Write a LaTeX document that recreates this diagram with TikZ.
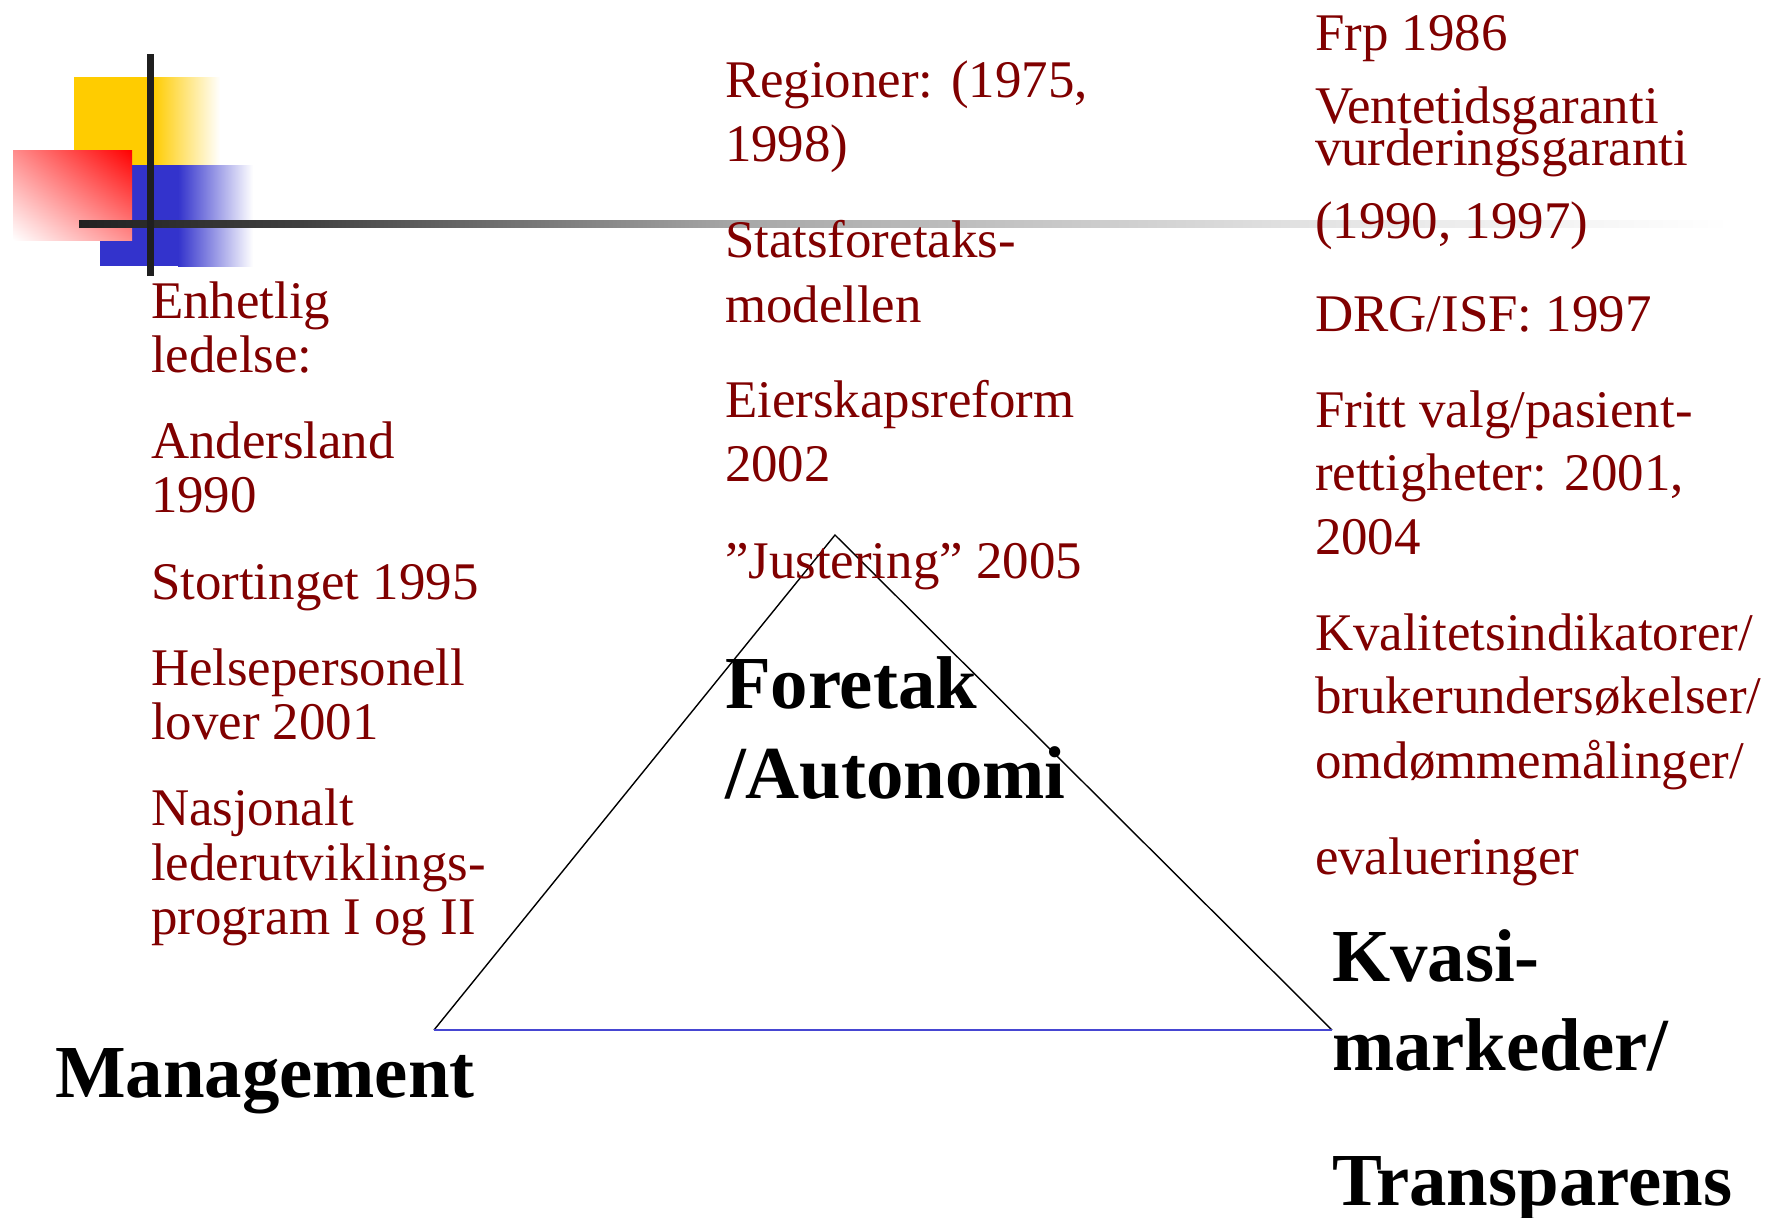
\documentclass[tikz,border=0pt]{standalone}
\usepackage{fontspec}
\setmainfont{Liberation Serif}
\usetikzlibrary{shadings}
\definecolor{dred}{RGB}{128,0,0}
\definecolor{dyellow}{RGB}{255,204,0}
\definecolor{dblue}{RGB}{51,51,204}
\definecolor{baseblue}{RGB}{70,70,210}
\begin{document}
\begin{tikzpicture}[x=0.5pt,y=-0.5pt,
  txt/.style={anchor=base west, inner sep=0pt, outer sep=0pt, text=dred, font=\fontsize{26.45}{26.45}\selectfont},
  big/.style={anchor=base west, inner sep=0pt, outer sep=0pt, text=black, font=\fontsize{37.4}{37.4}\selectfont\bfseries},
  sideedge/.style={draw=black, line width=0.7pt},
  baseedge/.style={draw=baseblue, line width=0.8pt}]
\useasboundingbox[fill=white] (0,0) rectangle (1769,1217);

% decoration
\fill[dyellow] (74,77) rectangle (153.5,166);
\shade[left color=dyellow, right color=white] (153,77) rectangle (220,166);
\fill[dblue] (100,165) rectangle (178.5,266);
\shade[left color=dblue, right color=white] (178,165) rectangle (253,266);
\shade[lower left=white, upper right=red, upper left=red!45!white, lower right=red!45!white] (13,150) rectangle (132,240);
\shade[left color=black!87, right color=black!75] (79,220.5) rectangle (301,227.5);
\shade[left color=black!75, right color=black!35] (300,220.5) rectangle (732,227.5);
\shade[left color=black!35, right color=black!11] (731,220.5) rectangle (1313,227.5);
\shade[left color=black!11, right color=white] (1312,220.5) rectangle (1730,227.5);
\fill[black!88] (147,54) rectangle (154,276);

% triangle
\coordinate (apex) at (835,535);
\coordinate (bl) at (434,1030);
\coordinate (br) at (1332,1030);
\draw[sideedge] (bl) -- (apex) -- (br);
\draw[baseedge] (bl) -- (br);

% left column
\node[txt] (l1) at (151,318) {Enhetlig};
\node[txt] (l2) at (151,372) {ledelse:};
\node[txt] (l3) at (151,458) {Andersland};
\node[txt] (l4) at (151,512) {1990};
\node[txt] (l5) at (151,599) {Stortinget 1995};
\node[txt] (l6) at (151,685) {Helsepersonell};
\node[txt] (l7) at (151,739) {lover 2001};
\node[txt] (l8) at (151,825) {Nasjonalt};
\node[txt] (l9) at (151,880) {lederutviklings-};
\node[txt] (l10) at (151,934) {program I og II};

% middle column
\node[txt] (m1) at (725,97) {Regioner: (1975,};
\node[txt] (m2) at (725,161) {1998)};
\node[txt] (m3) at (725,257) {Statsforetaks-};
\node[txt] (m4) at (725,322) {modellen};
\node[txt] (m5) at (725,417) {Eierskapsreform};
\node[txt] (m6) at (725,481) {2002};
\node[txt] (m7) at (725,578) {”Justering” 2005};

% right column
\node[txt] (r1) at (1315,50) {Frp 1986};
\node[txt] (r2) at (1315,123) {Ventetidsgaranti};
\node[txt] (r3) at (1315,165) {vurderingsgaranti};
\node[txt] (r4) at (1315,238) {(1990, 1997)};
\node[txt] (r5) at (1315,331) {DRG/ISF: 1997};
\node[txt] (r6) at (1315,427) {Fritt valg/pasient-};
\node[txt] (r7) at (1315,490) {rettigheter: 2001,};
\node[txt] (r8) at (1315,554) {2004};
\node[txt] (r9) at (1315,650) {Kvalitetsindikatorer/};
\node[txt] (r10) at (1315,713) {brukerundersøkelser/};
\node[txt] (r11) at (1315,778) {omdømmemålinger/};
\node[txt] (r12) at (1315,874) {evalueringer};

% bold labels
\node[big] (f1) at (725,708) {Foretak};
\node[big] (f2) at (725,798) {/Autonomi};
\node[big] (mg) at (55,1097) {Management};
\node[big] (k1) at (1332,981) {Kvasi-};
\node[big] (k2) at (1332,1070) {markeder/};
\node[big] (k3) at (1332,1205) {Transparens};
\end{tikzpicture}
\end{document}
